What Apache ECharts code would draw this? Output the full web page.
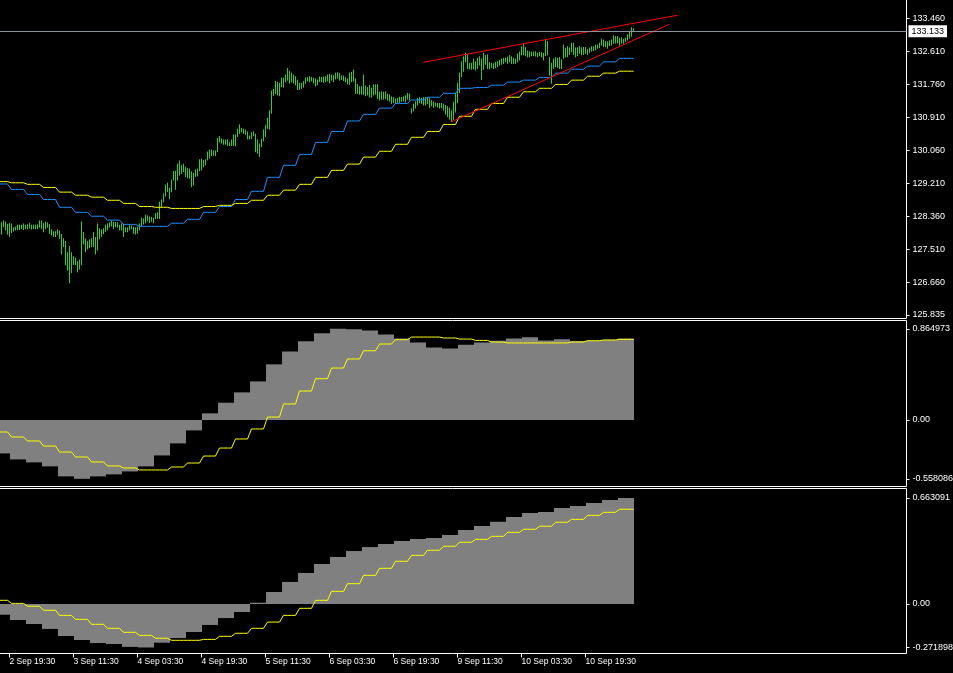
<!DOCTYPE html>
<html><head><meta charset="utf-8">
<script src="https://cdn.jsdelivr.net/npm/echarts@6/dist/echarts.min.js"></script>
<style>html,body{margin:0;padding:0;background:#000;overflow:hidden}#chart{width:953px;height:673px}</style>
</head><body><div id="chart"></div>
<script>
// ---- time axis (M30 bar index; index 0 = 2 Sep 19:30) ----
const tickLabels = ['2 Sep 19:30','3 Sep 11:30','4 Sep 03:30','4 Sep 19:30','5 Sep 11:30','6 Sep 03:30','6 Sep 19:30','9 Sep 11:30','10 Sep 03:30','10 Sep 19:30'];
const tickBarIndex = [0,32,64,96,128,160,192,224,256,288];

// ---- price bars (M30), first bar index -4 ----
const firstBarIndex = -4;
const barHigh = [
128.20,128.25,128.22,128.16,128.18,128.17,128.07,128.09,128.14,128.14,128.14,128.17,128.14,128.15,128.19,128.14,128.14,128.14,128.15,128.25,
128.25,128.18,128.22,128.20,128.16,128.02,127.97,127.97,128.02,127.99,127.90,127.79,127.72,127.43,127.59,127.43,127.33,127.29,127.20,127.24,
128.22,127.95,127.79,127.72,127.76,127.79,127.95,127.82,128.17,128.05,128.02,128.05,128.14,128.17,128.20,128.25,128.22,128.21,128.20,128.14,
128.17,128.16,128.07,128.07,128.12,128.12,128.09,128.07,128.09,128.17,128.32,128.30,128.40,128.38,128.35,128.34,128.32,128.44,128.46,128.73,
128.79,128.94,129.17,129.22,129.09,129.30,129.52,129.53,129.71,129.79,129.67,129.71,129.63,129.60,129.58,129.51,129.47,129.56,129.58,129.82,
129.84,129.80,129.82,130.02,130.07,130.07,130.05,130.05,130.37,130.42,130.36,130.33,130.33,130.33,130.26,130.33,130.46,130.46,130.61,130.72,
130.63,130.61,130.59,130.54,130.43,130.52,130.54,130.48,130.33,130.23,130.35,130.59,130.71,130.89,131.08,131.59,131.63,131.84,131.81,131.79,
131.92,131.92,132.00,132.17,132.10,132.05,132.00,131.96,131.87,131.79,131.78,131.83,131.93,131.93,131.96,131.94,131.92,131.90,131.87,131.95,
131.94,131.95,131.96,132.00,132.02,132.00,131.98,132.05,132.06,132.04,131.98,131.98,131.93,131.90,132.05,132.07,132.13,131.90,131.76,131.70,
131.70,132.00,131.72,131.68,131.73,131.66,131.75,131.75,131.75,131.56,131.57,131.56,131.57,131.51,131.49,131.44,131.42,131.38,131.40,131.43,
131.42,131.44,131.47,131.53,131.51,131.13,131.25,131.31,131.40,131.42,131.40,131.42,131.42,131.42,131.40,131.34,131.31,131.28,131.27,131.27,
131.27,131.25,131.22,131.19,131.15,131.08,131.30,131.53,131.79,132.05,132.34,132.47,132.56,132.53,132.30,132.30,132.41,132.34,132.43,132.47,
132.41,132.56,132.50,132.52,132.32,132.30,132.29,132.33,132.34,132.38,132.41,132.43,132.43,132.46,132.50,132.47,132.43,132.41,132.54,132.59,
132.73,132.79,132.71,132.62,132.60,132.59,132.59,132.60,132.56,132.58,132.58,132.56,132.92,132.86,132.45,132.30,132.41,132.45,132.43,132.45,
132.39,132.77,132.69,132.73,132.70,132.82,132.82,132.70,132.70,132.73,132.70,132.71,132.71,132.65,132.69,132.73,132.73,132.77,132.77,132.82,
132.93,132.90,132.86,132.86,132.88,132.90,133.01,132.99,132.99,132.95,132.96,132.92,132.95,133.03,133.10,133.22,133.19];
const barLow = [
127.91,128.10,128.02,127.91,127.85,127.95,127.99,128.02,128.03,128.03,128.05,128.03,128.05,128.05,128.07,128.04,128.05,128.05,128.05,128.09,
128.05,127.97,128.05,128.09,127.93,127.89,127.85,127.85,127.91,127.80,127.40,127.59,127.12,126.99,126.66,126.92,127.13,127.13,126.94,127.01,
127.12,127.66,127.46,127.53,127.56,127.59,127.59,127.40,127.50,127.79,127.85,127.92,127.98,128.02,128.09,128.12,128.05,128.10,128.09,128.02,
128.02,127.85,127.97,127.97,128.02,128.05,127.93,127.91,127.93,128.02,128.13,128.17,128.20,128.25,128.21,128.24,128.20,128.31,128.32,128.31,
128.62,128.74,128.89,129.00,128.82,129.00,129.30,129.06,129.30,129.43,129.47,129.52,129.39,129.36,129.35,129.13,129.17,129.39,129.41,129.54,
129.56,129.64,129.69,129.82,129.86,129.93,129.94,129.93,130.03,130.28,130.25,130.22,130.22,130.19,130.19,130.19,130.19,130.18,130.42,130.50,
130.54,130.50,130.48,130.36,130.36,130.37,130.44,130.03,129.99,129.90,130.16,130.31,130.42,130.63,130.61,131.02,131.48,131.53,131.49,131.47,
131.70,131.69,131.83,131.87,131.79,131.83,131.80,131.75,131.63,131.63,131.66,131.69,131.79,131.85,131.83,131.85,131.80,131.72,131.75,131.83,
131.83,131.81,131.83,131.85,131.80,131.87,131.83,131.90,131.92,131.87,131.89,131.86,131.83,131.78,131.76,131.83,131.85,131.53,131.53,131.51,
131.51,131.51,131.47,131.49,131.44,131.43,131.49,131.51,131.40,131.36,131.38,131.38,131.40,131.36,131.33,131.27,131.30,131.27,131.30,131.30,
131.33,131.34,131.31,131.38,131.36,131.02,131.08,131.15,131.23,131.29,131.27,131.23,131.23,131.27,131.17,131.21,131.17,131.21,131.18,131.15,
131.16,131.10,131.00,130.93,130.87,130.81,130.86,131.05,131.29,131.55,131.96,132.10,132.34,132.17,132.16,132.15,132.16,132.13,132.17,132.26,
131.89,132.15,132.28,132.17,132.16,132.20,132.17,132.19,132.22,132.26,132.28,132.30,132.34,132.30,132.34,132.30,132.30,132.30,132.34,132.39,
132.52,132.53,132.50,132.47,132.47,132.50,132.50,132.49,132.47,132.50,132.47,132.39,132.50,132.52,132.00,131.79,132.17,132.22,132.20,132.17,
132.17,132.43,132.47,132.47,132.53,132.60,132.53,132.47,132.50,132.56,132.52,132.53,132.56,132.53,132.58,132.62,132.63,132.65,132.69,132.71,
132.77,132.73,132.73,132.69,132.76,132.77,132.82,132.82,132.83,132.77,132.82,132.82,132.86,132.90,132.95,133.00,133.12];
const currentPrice = 133.133;
const priceTicks = [125.835,126.660,127.510,128.360,129.210,130.060,130.910,131.760,132.610,133.460];

// ---- H4 step values (segment -1 .. 38, 8 M30 bars each) ----
const firstSegment = -1;
const barsPerSegment = 8;
const blueMA = [129.20,129.06,128.93,128.80,128.60,128.47,128.37,128.27,128.16,128.11,128.11,128.19,128.29,128.47,128.62,128.80,129.01,129.37,129.68,129.96,
130.27,130.55,130.82,130.99,131.15,131.27,131.36,131.43,131.53,131.66,131.68,131.74,131.82,131.87,131.94,132.05,132.15,132.23,132.34,132.43];
const yellowMA = [129.26,129.23,129.19,129.11,128.99,128.91,128.86,128.78,128.70,128.62,128.60,128.57,128.57,128.62,128.65,128.70,128.78,128.91,129.04,129.19,
129.37,129.55,129.71,129.89,130.04,130.22,130.40,130.55,130.73,130.94,131.12,131.27,131.43,131.57,131.66,131.76,131.87,131.97,132.05,132.10];
const osc1Hist = [-0.317,-0.374,-0.402,-0.440,-0.535,-0.558086,-0.535,-0.516,-0.488,-0.440,-0.336,-0.222,-0.099,0.063,0.164,0.262,0.366,0.528,0.651,0.746,
0.822,0.864973,0.862,0.850,0.812,0.774,0.736,0.689,0.679,0.714,0.736,0.752,0.774,0.784,0.755,0.765,0.750,0.755,0.762,0.774];
const osc1Signal = [-0.114,-0.161,-0.199,-0.247,-0.304,-0.351,-0.398,-0.436,-0.455,-0.474,-0.474,-0.446,-0.408,-0.342,-0.266,-0.180,-0.085,0.028,0.152,0.275,
0.392,0.493,0.579,0.657,0.721,0.762,0.787,0.787,0.778,0.768,0.755,0.740,0.731,0.731,0.731,0.731,0.740,0.752,0.759,0.765];
const osc2Hist = [-0.067,-0.100,-0.125,-0.156,-0.200,-0.225,-0.244,-0.250,-0.268,-0.271898,-0.242,-0.213,-0.175,-0.131,-0.088,-0.050,0.008,0.075,0.138,0.194,
0.250,0.294,0.331,0.356,0.375,0.394,0.406,0.413,0.431,0.463,0.488,0.514,0.544,0.569,0.575,0.600,0.613,0.631,0.650,0.663091];
const osc2Signal = [0.023,0.004,-0.014,-0.039,-0.071,-0.096,-0.127,-0.152,-0.177,-0.196,-0.214,-0.227,-0.227,-0.221,-0.202,-0.183,-0.152,-0.113,-0.071,-0.027,
0.023,0.079,0.127,0.179,0.223,0.267,0.304,0.336,0.361,0.386,0.404,0.423,0.448,0.467,0.486,0.511,0.529,0.554,0.573,0.592];
const osc1Ticks = [-0.558086,0,0.864973];
const osc2Ticks = [-0.271898,0,0.663091];

// ---- trend lines [bar index, price] ----
const trendUpper = [[207,132.33],[334,133.54]];
const trendLower = [[221,130.80],[330,133.31]];

// ================= build =================
const lastBar = firstBarIndex + barHigh.length - 1;
const priceData = barHigh.map((h,j)=>[firstBarIndex+j, h, barLow[j]]);
function expandSteps(vals){
  const out=[];
  vals.forEach((v,j)=>{
    const k = firstSegment + j;
    for(let b=k*barsPerSegment+1;b<=k*barsPerSegment+barsPerSegment;b++){ if(b<=lastBar) out.push([b,v]); }
  });
  return out;
}
function segData(vals){
  return vals.map((v,j)=>{const k=firstSegment+j; return [k*barsPerSegment+1, Math.min(k*barsPerSegment+barsPerSegment,lastBar), v];});
}
function barItem(params, api){
  const i = api.value(0);
  const h = api.coord([i, api.value(1)]);
  const l = api.coord([i, api.value(2)]);
  return {type:'line', shape:{x1:h[0],y1:h[1]-0.5,x2:l[0],y2:l[1]+0.5}, style:{stroke:'#32cd32', lineWidth:1}};
}
function histItem(params, api){
  const a = api.coord([api.value(0)-0.75, 0]);
  const b = api.coord([api.value(1)+0.25, api.value(2)]);
  return {type:'rect', shape:{x:a[0], y:Math.min(a[1],b[1]), width:b[0]-a[0], height:Math.abs(b[1]-a[1])}, style:{fill:'#808080'}};
}
const FONT = 'Liberation Sans';
const gridBase = {left:-1.5, width:908, show:true, borderColor:'#ffffff', borderWidth:1, backgroundColor:'rgba(0,0,0,0)', containLabel:false, outerBoundsMode:'none'};
function yAx(g, min, max, ticks, fmt){
  return {type:'value', gridIndex:g, position:'right', min:min, max:max,
    splitLine:{show:false}, axisLine:{show:false, onZero:false},
    axisTick:{show:true, customValues:ticks, length:3, lineStyle:{color:'#ffffff'}},
    axisLabel:{show:true, customValues:ticks, formatter:fmt, color:'#ffffff', margin:6, fontSize:9, fontFamily:FONT}};
}
const oscFmt = v => (Math.abs(v) < 1e-9 ? '0.00' : v.toFixed(6));
const option = {
  backgroundColor:'#000000',
  animation:false,
  grid:[
    Object.assign({top:-1.5, height:320}, gridBase),
    Object.assign({top:320.5, height:166}, gridBase),
    Object.assign({top:488.5, height:165}, gridBase)
  ],
  xAxis:[0,1,2].map(g=>({type:'value', gridIndex:g, position:'bottom', min:-5.5, max:448.5,
    axisLine:{show:false, onZero:false}, splitLine:{show:false},
    axisTick: g===2 ? {show:true, customValues:tickBarIndex, length:4, lineStyle:{color:'#ffffff'}} : {show:false},
    axisLabel: g===2 ? {show:true, customValues:tickBarIndex, formatter:v=>tickLabels[Math.round(v/32)], color:'#ffffff', align:'left', margin:4, fontSize:8.5, fontFamily:FONT} : {show:false}
  })),
  yAxis:[
    yAx(0, 125.7395, 133.9696, priceTicks, v=>v.toFixed(3)),
    yAx(1, -0.63093, 0.94402, osc1Ticks, oscFmt),
    yAx(2, -0.309375, 0.721875, osc2Ticks, oscFmt)
  ],
  series:[
    {type:'custom', name:'price', xAxisIndex:0, yAxisIndex:0, renderItem:barItem, data:priceData, encode:{x:0, y:[1,2]}, silent:true},
    {type:'line', name:'maFast', xAxisIndex:0, yAxisIndex:0, data:expandSteps(blueMA), showSymbol:false, lineStyle:{color:'#1e90ff', width:1}, silent:true,
      markLine:{silent:true, symbol:['none','none'], animation:false, data:[{yAxis:currentPrice}],
        lineStyle:{color:'#8a929c', width:1, type:'solid'},
        label:{show:true, position:'end', distance:2, formatter:currentPrice.toFixed(3), color:'#000000', backgroundColor:'#ffffff', padding:[2,3,1,3], fontSize:9, fontFamily:FONT}}},
    {type:'line', name:'maSlow', xAxisIndex:0, yAxisIndex:0, data:expandSteps(yellowMA), showSymbol:false, lineStyle:{color:'#ffff00', width:1}, silent:true},
    {type:'line', name:'trendUpper', xAxisIndex:0, yAxisIndex:0, data:trendUpper, showSymbol:false, lineStyle:{color:'#ff0000', width:1}, silent:true},
    {type:'line', name:'trendLower', xAxisIndex:0, yAxisIndex:0, data:trendLower, showSymbol:false, lineStyle:{color:'#ff0000', width:1}, silent:true},
    {type:'custom', name:'osc1Hist', xAxisIndex:1, yAxisIndex:1, renderItem:histItem, data:segData(osc1Hist), encode:{x:[0,1], y:2}, silent:true},
    {type:'line', name:'osc1Signal', xAxisIndex:1, yAxisIndex:1, data:expandSteps(osc1Signal), showSymbol:false, lineStyle:{color:'#ffff00', width:1}, silent:true},
    {type:'custom', name:'osc2Hist', xAxisIndex:2, yAxisIndex:2, renderItem:histItem, data:segData(osc2Hist), encode:{x:[0,1], y:2}, silent:true},
    {type:'line', name:'osc2Signal', xAxisIndex:2, yAxisIndex:2, data:expandSteps(osc2Signal), showSymbol:false, lineStyle:{color:'#ffff00', width:1}, silent:true}
  ]
};
const chart = echarts.init(document.getElementById('chart'), null, {renderer:'canvas'});
chart.setOption(option);
</script>
</body></html>
